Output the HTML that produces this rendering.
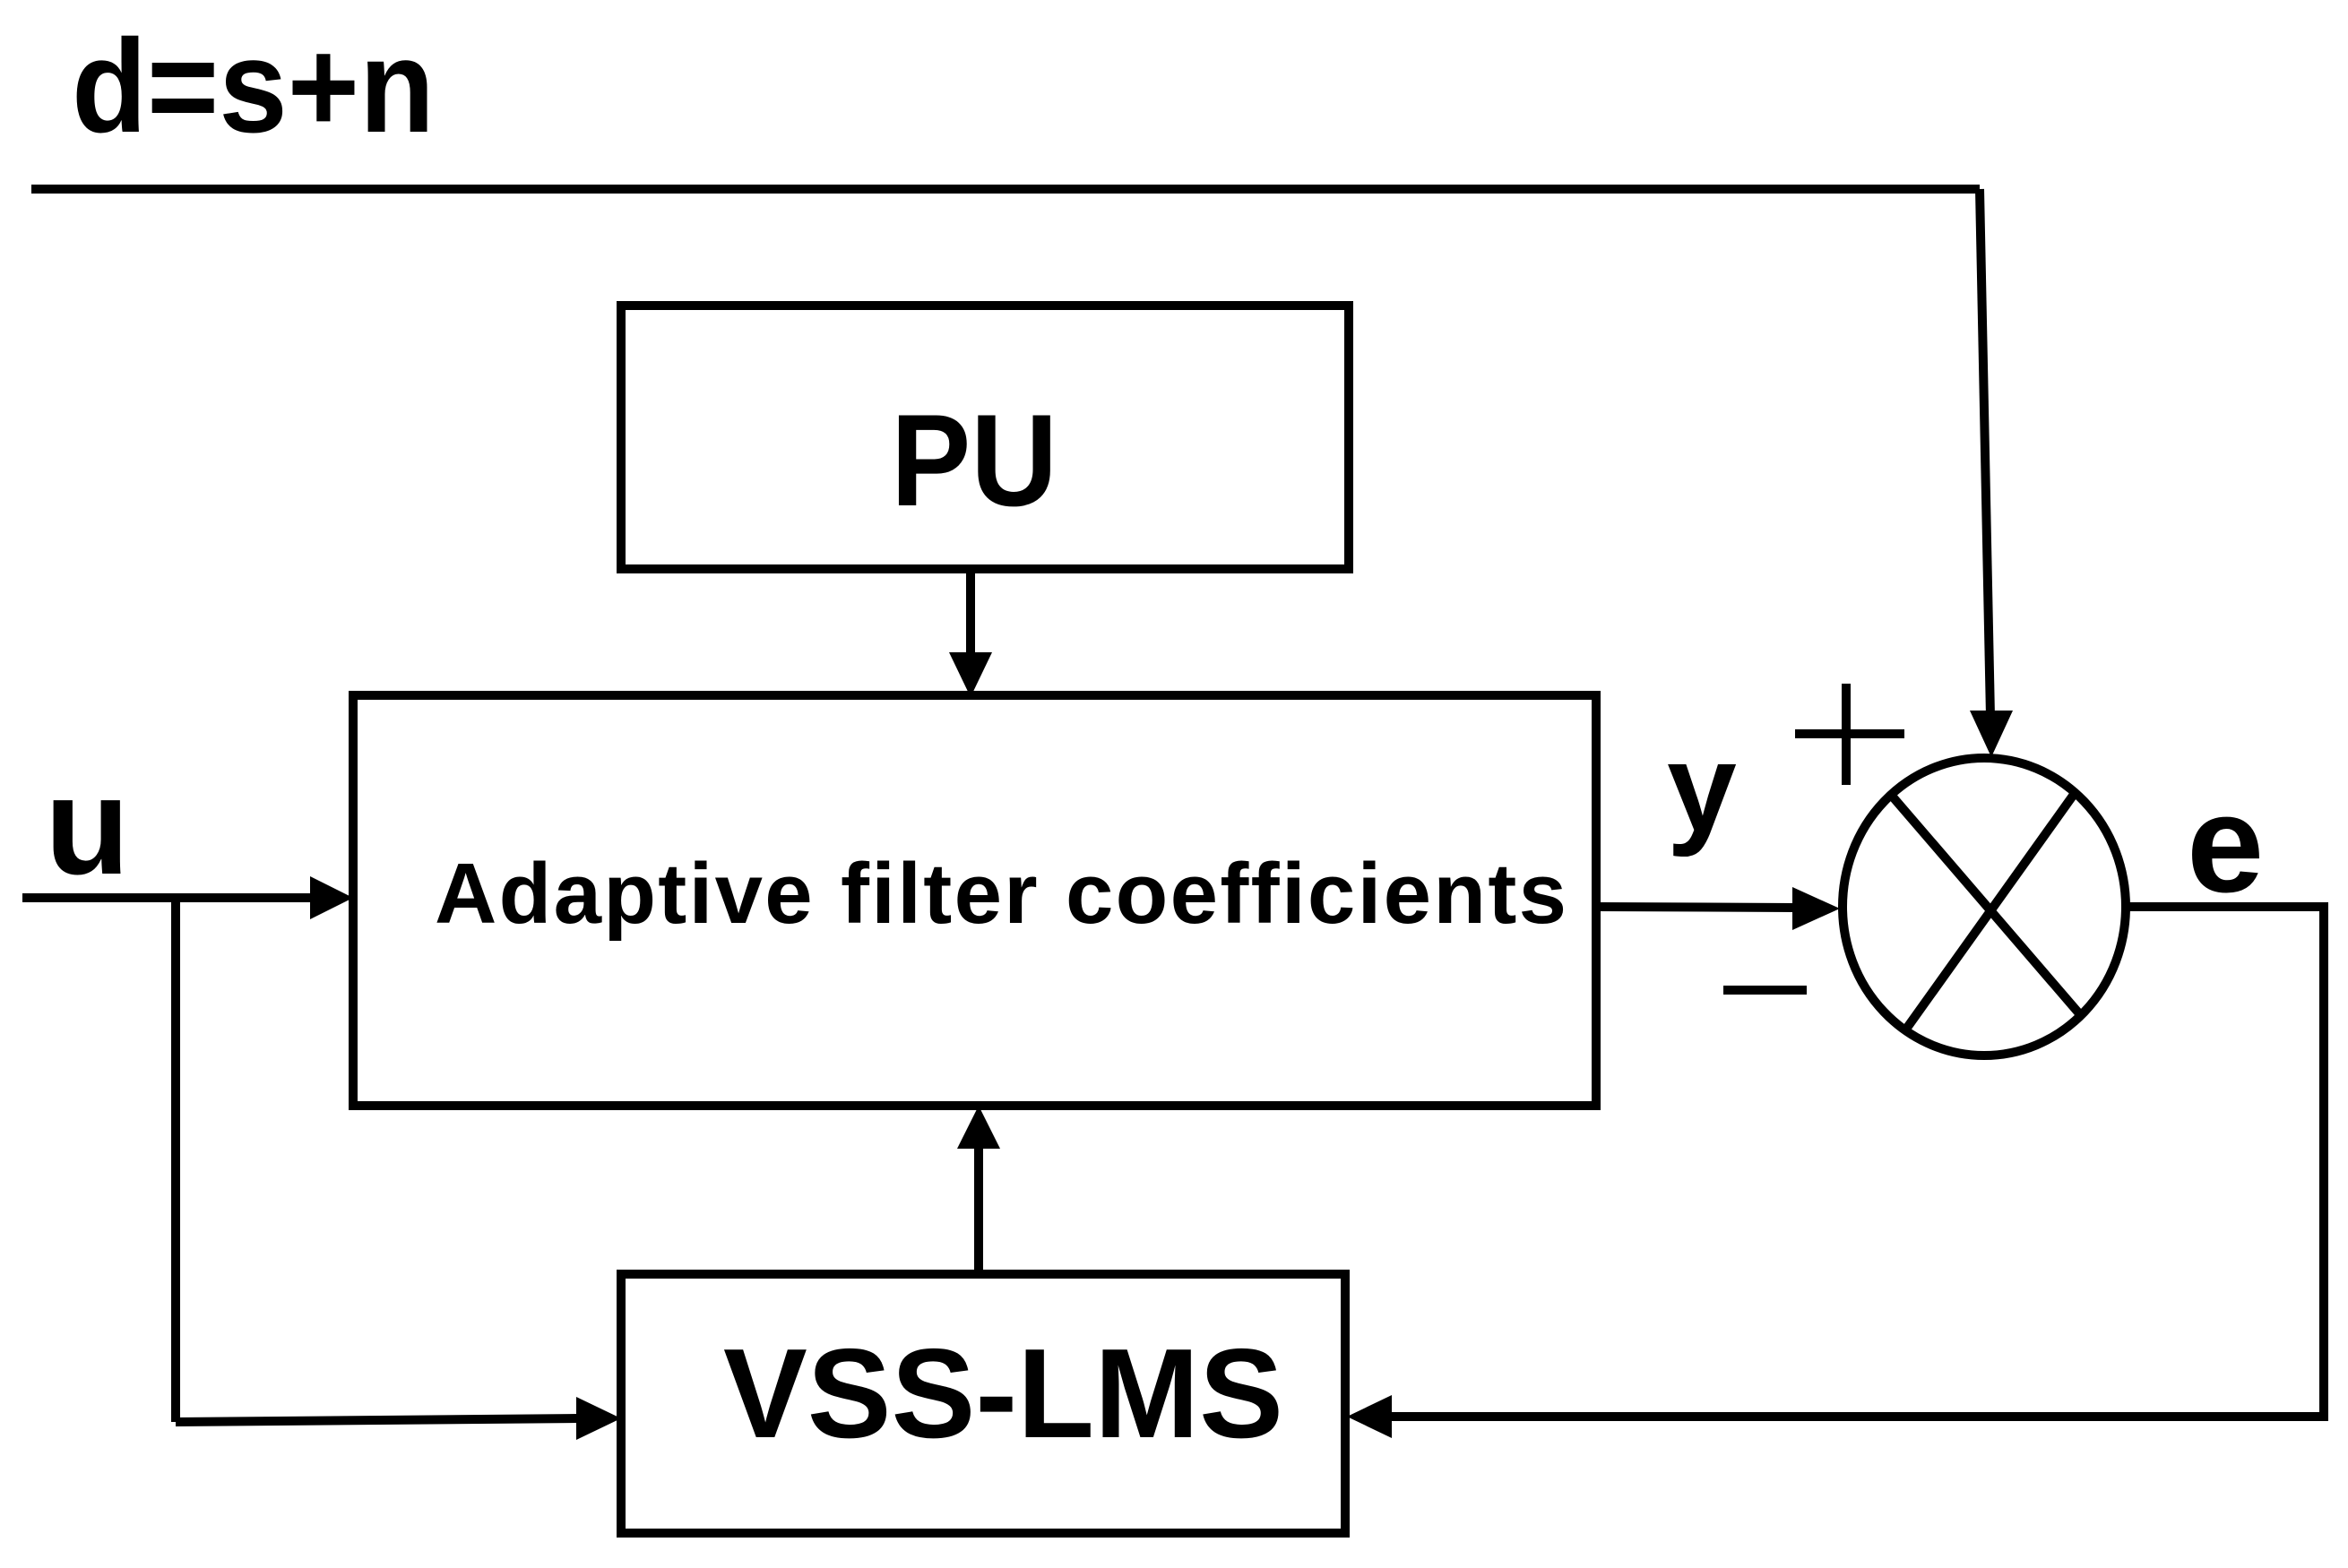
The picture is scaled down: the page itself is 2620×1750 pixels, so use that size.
<!DOCTYPE html>
<html><head><style>html,body{margin:0;padding:0;background:#fff}svg{display:block}</style></head>
<body>
<svg width="2620" height="1750" viewBox="0 0 2620 1750" xmlns="http://www.w3.org/2000/svg">
<g stroke="#000" stroke-width="10" fill="none">
<line x1="35" y1="211" x2="2209" y2="211"/>
<line x1="2209" y1="211" x2="2221" y2="800"/>
<rect x="693" y="341" width="812" height="294"/>
<line x1="1083" y1="635" x2="1083" y2="735"/>
<rect x="394" y="776" width="1387" height="458"/>
<line x1="25" y1="1002" x2="350" y2="1002"/>
<line x1="196" y1="1002" x2="196" y2="1587"/>
<line x1="196" y1="1587" x2="645" y2="1583"/>
<rect x="693" y="1422" width="808" height="289"/>
<line x1="1092" y1="1422" x2="1092" y2="1280"/>
<line x1="1781" y1="1012" x2="2005" y2="1013"/>
<ellipse cx="2214" cy="1012" rx="158" ry="166"/>
<line x1="2110" y1="887" x2="2319" y2="1130"/>
<line x1="2313" y1="888" x2="2128" y2="1147"/>
<polyline points="2372,1012 2593,1012 2593,1581 1550,1581"/>
<line x1="2003" y1="819" x2="2125" y2="819"/>
<line x1="2060" y1="763" x2="2060" y2="876"/>
<line x1="1923" y1="1105" x2="2016" y2="1105"/>
</g>
<g fill="#000">
<polygon points="1059,728 1107,728 1083,778"/>
<polygon points="1068,1282 1116,1282 1092,1234"/>
<polygon points="346,978 346,1026 394,1002"/>
<polygon points="643,1559 643,1607 693,1583"/>
<polygon points="1553,1557 1553,1605 1503,1581"/>
<polygon points="2198,793 2246,793 2222,845"/>
<polygon points="2000,990 2000,1038 2053,1014"/>
</g>
<g font-family="Liberation Sans, sans-serif" font-weight="bold" fill="#000">
<text x="80" y="147" font-size="148" textLength="405" lengthAdjust="spacingAndGlyphs">d=s+n</text>
<text x="994" y="564" font-size="146" textLength="186" lengthAdjust="spacingAndGlyphs">PU</text>
<text x="807" y="1604" font-size="142" textLength="625" lengthAdjust="spacingAndGlyphs">VSS-LMS</text>
<text x="485" y="1030" font-size="96" textLength="1263" lengthAdjust="spacing">Adaptive filter coefficients</text>
<text x="50" y="975" font-size="155">u</text>
<text x="1860" y="927" font-size="140">y</text>
<text x="2440" y="995" font-size="155">e</text>
</g>
</svg>
</body></html>
